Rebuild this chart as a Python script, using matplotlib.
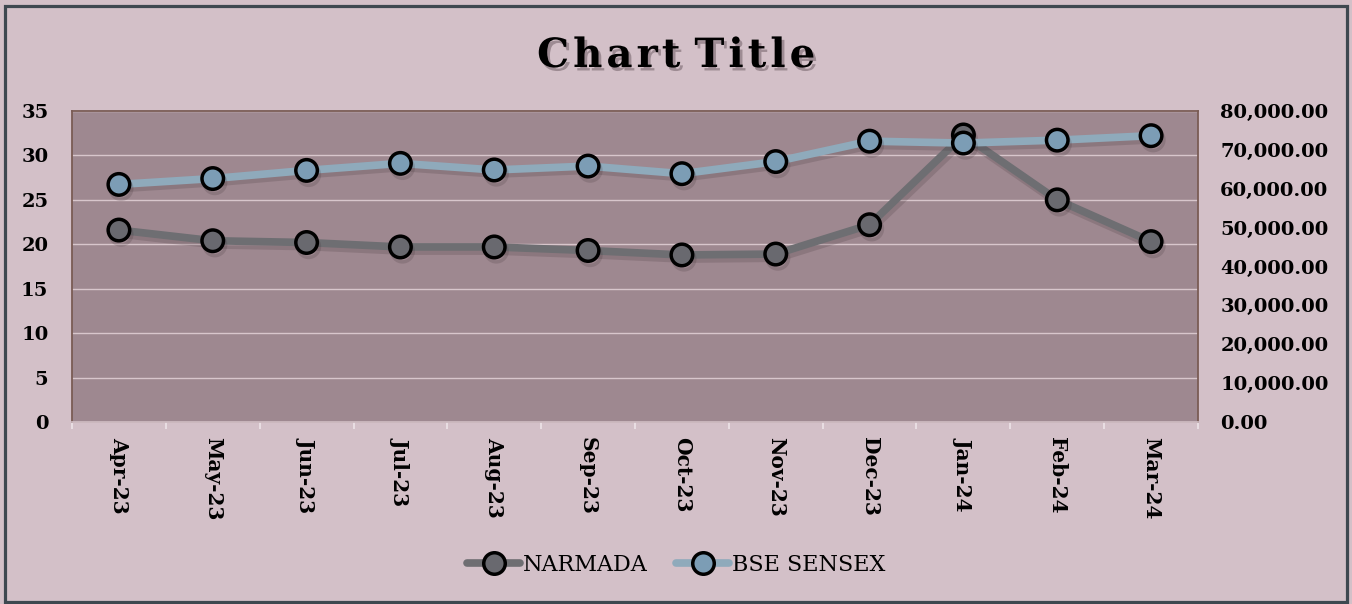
import matplotlib
matplotlib.use("Agg")
import matplotlib.pyplot as plt
import matplotlib.patheffects as pe
from matplotlib.patches import Rectangle
from matplotlib.lines import Line2D
from matplotlib.ticker import FuncFormatter, MultipleLocator, FixedLocator

months = ["Apr-23", "May-23", "Jun-23", "Jul-23", "Aug-23", "Sep-23",
          "Oct-23", "Nov-23", "Dec-23", "Jan-24", "Feb-24", "Mar-24"]
narmada = [21.6, 20.4, 20.2, 19.7, 19.7, 19.3, 18.8, 18.9, 22.2, 32.3, 25.0, 20.3]
sensex = [61112, 62622, 64718, 66527, 64831, 65828, 63874, 66988, 72240, 71752, 72500, 73651]

W, H = 1352, 604
fig = plt.figure(figsize=(W / 100, H / 100), dpi=100)
fig.patch.set_facecolor("#D3C0C8")

FONT = "DejaVu Serif"
plt.rcParams["font.family"] = [FONT, "DejaVu Sans"]

left_px, right_px, top_px, bot_px = 72, 1198, 111, 422
ax = fig.add_axes([left_px / W, 1 - bot_px / H, (right_px - left_px) / W, (bot_px - top_px) / H])
ax.set_facecolor("#9E8890")
ax2 = ax.twinx()
ax2.patch.set_visible(False)

x = list(range(len(months)))
shadow = [pe.SimpleLineShadow(offset=(1.5, -3), shadow_color="#3a2a30", alpha=0.18), pe.Normal()]

c1_line, c1_face = "#6E6E72", "#69696F"
c2_line, c2_face = "#8FAABB", "#7C9DB5"
MS, MEW, LW = 15.5, 2.5, 5.5

ax.plot(x, narmada, color=c1_line, lw=LW, marker="o", ms=MS, mfc=c1_face,
        mec="black", mew=MEW, solid_capstyle="round", path_effects=shadow, zorder=3)
ax2.plot(x, sensex, color=c2_line, lw=LW, marker="o", ms=MS, mfc=c2_face,
         mec="black", mew=MEW, solid_capstyle="round", path_effects=shadow, zorder=3)

ax.set_xlim(-0.5, len(months) - 0.5)
ax.set_ylim(0, 35)
ax2.set_ylim(0, 80000)
ax.yaxis.set_major_locator(MultipleLocator(5))
ax2.yaxis.set_major_locator(MultipleLocator(10000))
ax2.yaxis.set_major_formatter(FuncFormatter(lambda v, p: f"{v:,.2f}"))

ax.grid(axis="y", color="#D8C6CC", lw=1.0)
ax.set_axisbelow(True)

ax.set_xticks(x)
ax.set_xticklabels(months, rotation=270, fontsize=14.5, fontweight="bold")
ax.xaxis.set_minor_locator(FixedLocator([i - 0.5 for i in range(len(months) + 1)]))
ax.tick_params(axis="x", which="major", length=0, pad=11)
ax.tick_params(axis="x", which="minor", length=5, width=1.2, color="#EDE4E8", direction="out")
ax.tick_params(axis="y", length=0, pad=17)
ax2.tick_params(axis="y", length=0, pad=16)
for lab in ax.get_yticklabels():
    lab.set_fontweight("bold"); lab.set_fontsize(14)
for lab in ax2.get_yticklabels():
    lab.set_fontweight("bold"); lab.set_fontsize(14)

for a in (ax, ax2):
    for s in a.spines.values():
        s.set_visible(False)
for side in ("left", "top", "right"):
    ax.spines[side].set_visible(True)
    ax.spines[side].set_color("#7A5C55")
    ax.spines[side].set_linewidth(1.3)
ax.spines["bottom"].set_visible(True)
ax.spines["bottom"].set_color("#CBB8BE")
ax.spines["bottom"].set_linewidth(1.3)

title = " ".join("\u200a".join(w) for w in "Chart Title".split(" "))
fig.text(0.5, 1 - 56 / H, title, ha="center", va="center", fontsize=29,
         fontweight="bold", family=[FONT, "DejaVu Sans"],
         path_effects=[pe.SimplePatchShadow(offset=(2, -2.5), shadow_rgbFace="#3a2a30", alpha=0.35), pe.Normal()])

handles = [
    Line2D([], [], color=c1_line, lw=LW, marker="o", ms=MS, mfc=c1_face, mec="black", mew=MEW, solid_capstyle="round"),
    Line2D([], [], color=c2_line, lw=LW, marker="o", ms=MS, mfc=c2_face, mec="black", mew=MEW, solid_capstyle="round"),
]
fig.legend(handles, ["NARMADA", "BSE SENSEX"], loc="center", bbox_to_anchor=(0.5, 1 - 565 / H), ncol=2,
           frameon=False, prop={"family": FONT, "size": 16}, handlelength=2.4,
           handletextpad=0.1, columnspacing=1.3)

fig.patches.append(Rectangle((4.5 / W, 2.5 / H), (1346.5 - 4.5) / W, (597.5 - 2.5 + 1) / H,
                             transform=fig.transFigure, fill=False, ec="#3E4850", lw=2.3))

fig.savefig("out.png", dpi=100, facecolor=fig.get_facecolor())
